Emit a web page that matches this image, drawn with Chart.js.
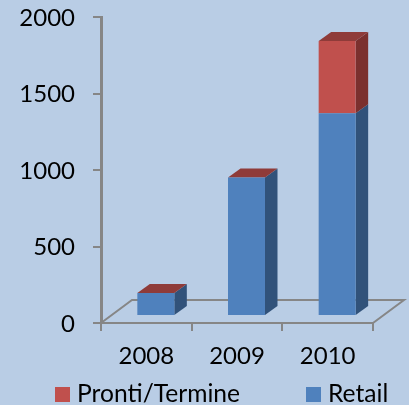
<!DOCTYPE html>
<html>
<head>
<meta charset="utf-8">
<script src="https://cdn.jsdelivr.net/npm/chart.js@4"></script>
<style>
    html, body { margin: 0; padding: 0; background: #b9cde5; }
    #wrap { position: relative; width: 409px; height: 405px; overflow: hidden; }
    #legend span { position: absolute; font: 24.6px Lato, sans-serif; color: #000; line-height: 24px; white-space: nowrap; }
    #legend i { position: absolute; width: 15px; height: 15px; }
</style>
</head>
<body>
<div id="wrap">
    <canvas id="myChart" width="409" height="405"></canvas>
    <div id="legend"></div>
</div>
<script>
var years = ["2008", "2009", "2010"];
var retail = [150, 905, 1325];
var prontiTermine = [0, 0, 472];
var yTicks = [0, 500, 1000, 1500, 2000];

var BLUE = "#4f81bd", BLUE_SIDE = "#31527a";
var RED = "#c0504d", RED_SIDE = "#7b302e", RED_TOP = "#8f3b39";
var AXIS = "#868686";

// depth of one bar and of the floor, in pixels
var barDx = 12.5, barDy = -9;
var floorDx = 31, floorDy = -23;
// bars stand in the middle of the floor
var shiftX = 9.5, shiftY = -7;

function poly(ctx, pts, color) {
    ctx.fillStyle = color;
    ctx.beginPath();
    ctx.moveTo(pts[0][0], pts[0][1]);
    for (var i = 1; i < pts.length; i++) ctx.lineTo(pts[i][0], pts[i][1]);
    ctx.closePath();
    ctx.fill();
}

var fake3d = {
    id: "fake3d",
    beforeDatasetsDraw: function (chart) {
        var ctx = chart.ctx, a = chart.chartArea;

        // floor
        ctx.save();
        ctx.strokeStyle = AXIS;
        ctx.lineWidth = 2;
        ctx.beginPath();
        ctx.moveTo(a.left, a.bottom);
        ctx.lineTo(a.left + floorDx, a.bottom + floorDy);
        ctx.lineTo(a.right + floorDx, a.bottom + floorDy);
        ctx.lineTo(a.right, a.bottom);
        ctx.stroke();
        ctx.restore();

        ctx.save();
        ctx.translate(shiftX, shiftY);

        // side faces and the top of each stack
        var sideColors = [BLUE_SIDE, RED_SIDE];
        chart.data.datasets.forEach(function (ds, d) {
            chart.getDatasetMeta(d).data.forEach(function (bar) {
                var r = bar.x + bar.width / 2;
                poly(ctx, [[r, bar.base], [r + barDx, bar.base + barDy],
                    [r + barDx, bar.y + barDy], [r, bar.y]], sideColors[d]);
            });
        });
        var topMeta = chart.getDatasetMeta(chart.data.datasets.length - 1);
        topMeta.data.forEach(function (bar) {
            var l = bar.x - bar.width / 2, r = bar.x + bar.width / 2;
            poly(ctx, [[l, bar.y], [l + barDx, bar.y + barDy],
                [r + barDx, bar.y + barDy], [r, bar.y]], RED_TOP);
        });
    },
    afterDatasetsDraw: function (chart) {
        chart.ctx.restore();
    },
};

var data = {
    labels: years,
    datasets: [
        { label: "Retail", data: retail, backgroundColor: BLUE, barPercentage: 1, categoryPercentage: 0.408 },
        { label: "Pronti/Termine", data: prontiTermine, backgroundColor: RED, barPercentage: 1, categoryPercentage: 0.408 },
    ],
};

var tickFont = { family: "Lato", size: 24 };

var config = {
    type: "bar",
    data: data,
    plugins: [fake3d],
    options: {
        responsive: false,
        animation: false,
        layout: { padding: { top: 17, right: 36, left: 0, bottom: 0 } },
        plugins: { legend: { display: false }, tooltip: { enabled: false } },
        scales: {
            x: {
                stacked: true,
                grid: { drawOnChartArea: false, color: AXIS, lineWidth: 2, tickLength: 8 },
                border: { color: AXIS, width: 2 },
                ticks: { font: tickFont, color: "#000", padding: 11, maxRotation: 0 },
                afterFit: function (scale) {
                    scale.height = 82;
                    scale.paddingLeft = 0;
                    scale.paddingRight = 0;
                },
            },
            y: {
                stacked: true,
                min: 0,
                max: 2000,
                grid: { drawOnChartArea: false, color: AXIS, lineWidth: 2, tickLength: 8 },
                border: { color: AXIS, width: 3 },
                afterBuildTicks: function (scale) {
                    scale.ticks = yTicks.map(function (v) { return { value: v }; });
                },
                ticks: {
                    font: tickFont,
                    color: "#000",
                    padding: 18,
                    labelOffset: 1,
                    callback: function (value) { return String(value); },
                },
                afterFit: function (scale) {
                    scale.width = 101;
                    scale.paddingTop = 0;
                    scale.paddingBottom = 0;
                },
            },
        },
    },
};

// legend is built from the datasets, listed last to first as in the picture
var legendPos = { "Pronti/Termine": 55, "Retail": 306 };
function buildLegend() {
    var box = document.getElementById("legend");
    data.datasets.slice().reverse().forEach(function (ds) {
        var sw = document.createElement("i");
        sw.style.left = legendPos[ds.label] + "px";
        sw.style.top = "387px";
        sw.style.background = ds.backgroundColor;
        var tx = document.createElement("span");
        tx.style.left = (legendPos[ds.label] + 22) + "px";
        tx.style.top = "381px";
        tx.textContent = ds.label;
        box.appendChild(sw);
        box.appendChild(tx);
    });
}

window.onload = function () {
    var ctx = document.getElementById("myChart").getContext("2d");
    new Chart(ctx, config);
    buildLegend();
};
</script>
</body>
</html>
